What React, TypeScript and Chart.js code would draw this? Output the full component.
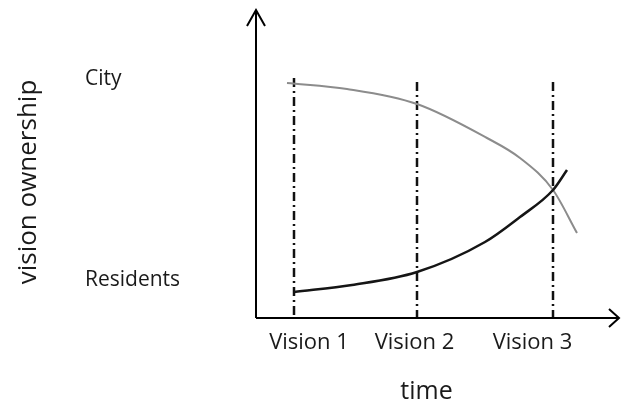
import React, { useEffect, useRef } from "react";
import { Chart, registerables } from "chart.js";

Chart.register(...registerables);

// City curve (gray)
const cityX = [31, 91, 161, 231, 264, 297, 321];
const cityY = [235, 229, 214, 180, 160, 128, 85];
// Residents curve (black)
const residentsX = [38, 96, 161, 229, 264, 297, 311];
const residentsY = [26, 33, 46, 76, 101, 128, 148];
// Vision markers (vertical dash-dot lines)
const visionLineX = [38, 161, 297];
const visionLineTop = [240, 236, 236];
// Tick labels
const xTickValues = [53, 158.5, 276.5];
const xTickLabels = ["Vision 1", "Vision 2", "Vision 3"];
const yTickValues = [38, 239];
const yTickLabels = ["Residents", "City"];

const FONT = "'Open Sans', sans-serif";
const TEXT = "#1a1a1a";

const axesPlugin = {
  id: "arrowAxes",
  afterDatasetsDraw(chart: any) {
    const { ctx, chartArea, scales } = chart;
    const x0 = scales.x.getPixelForValue(0);
    const y0 = scales.y.getPixelForValue(0);
    const topTip = chartArea.top - 36;
    const rightTip = chartArea.right + 22;
    ctx.save();
    ctx.strokeStyle = "#000";
    ctx.lineWidth = 2;
    ctx.beginPath();
    ctx.moveTo(x0, y0);
    ctx.lineTo(x0, topTip);
    ctx.moveTo(x0, y0);
    ctx.lineTo(rightTip, y0);
    ctx.stroke();
    ctx.beginPath();
    ctx.moveTo(x0 - 9, topTip + 16);
    ctx.lineTo(x0, topTip);
    ctx.lineTo(x0 + 9, topTip + 16);
    ctx.moveTo(rightTip - 10, y0 - 9);
    ctx.lineTo(rightTip, y0);
    ctx.lineTo(rightTip - 10, y0 + 9);
    ctx.stroke();
    ctx.restore();
  },
};

export default function App() {
  const ref = useRef<HTMLCanvasElement | null>(null);

  useEffect(() => {
    document.body.style.margin = "0";
    if (!ref.current) return;
    const toPts = (xs: number[], ys: number[]) => xs.map((x, i) => ({ x, y: ys[i] }));
    const visionSets = visionLineX.map((x, i) => ({
      label: xTickLabels[i],
      data: [
        { x, y: visionLineTop[i] },
        { x, y: 0 },
      ],
      borderColor: "#111",
      borderWidth: 2.5,
      borderDash: [9, 4, 2, 4],
      pointRadius: 0,
      fill: false,
    }));
    const chart = new Chart(ref.current, {
      type: "line",
      data: {
        datasets: [
          {
            label: "Residents",
            data: toPts(residentsX, residentsY),
            borderColor: "#151515",
            borderWidth: 2.5,
            pointRadius: 0,
            cubicInterpolationMode: "monotone",
            fill: false,
          },
          {
            label: "City",
            data: toPts(cityX, cityY),
            borderColor: "#8c8c8c",
            borderWidth: 2,
            pointRadius: 0,
            cubicInterpolationMode: "monotone",
            fill: false,
          },
          ...visionSets,
        ] as any,
      },
      options: {
        responsive: false,
        animation: false,
        devicePixelRatio: 1,
        layout: { padding: { top: 46, right: 24, left: 0, bottom: 0 } },
        plugins: { legend: { display: false }, tooltip: { enabled: false } },
        scales: {
          x: {
            type: "linear",
            min: 0,
            max: 341,
            afterBuildTicks: (s: any) => {
              s.ticks = xTickValues.map((v) => ({ value: v }));
            },
            afterFit: (s: any) => {
              s.height = 87;
            },
            grid: { display: false, drawTicks: false },
            border: { display: false },
            ticks: {
              autoSkip: false,
              maxRotation: 0,
              padding: 12,
              color: TEXT,
              font: { family: FONT, size: 22 },
              callback: (_v: any, i: number) => xTickLabels[i],
            },
            title: {
              display: true,
              text: "time",
              color: TEXT,
              font: { family: FONT, size: 25 },
              padding: { top: 0, bottom: -2 },
            },
          },
          y: {
            type: "linear",
            min: 0,
            max: 272,
            afterBuildTicks: (s: any) => {
              s.ticks = yTickValues.map((v) => ({ value: v }));
            },
            afterFit: (s: any) => {
              s.width = 256;
            },
            grid: { display: false, drawTicks: false },
            border: { display: false },
            ticks: {
              autoSkip: false,
              mirror: true,
              padding: -171,
              color: TEXT,
              font: { family: FONT, size: 21 },
              callback: (_v: any, i: number) => yTickLabels[i],
            },
            title: {
              display: true,
              text: "vision ownership",
              color: TEXT,
              font: { family: FONT, size: 26 },
              padding: { top: 13, bottom: 0 },
            },
          },
        },
      } as any,
      plugins: [axesPlugin],
    });
    return () => chart.destroy();
  }, []);

  return (
    <div style={{ width: 621, height: 405 }}>
      <canvas ref={ref} width={621} height={405} style={{ display: "block" }} />
    </div>
  );
}
